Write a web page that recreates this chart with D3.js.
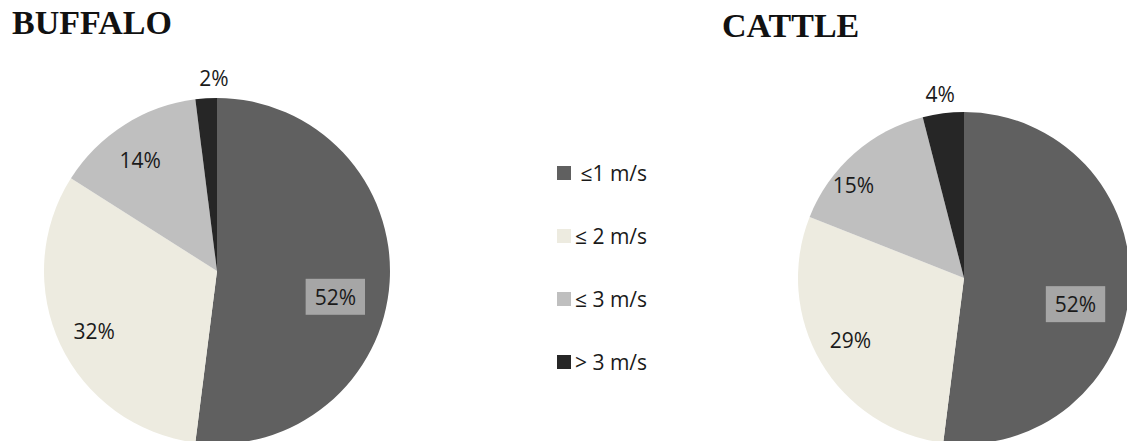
<!DOCTYPE html>
<html><head><meta charset="utf-8">
<script src="https://cdn.jsdelivr.net/npm/d3@7"></script>
<style>html,body{margin:0;padding:0;background:#fff;}svg{display:block;}</style>
</head><body>
<svg id="chart" width="1127" height="441"></svg>
<script>
// ---- data ----
const categories = ["\u00a0\u22641 m/s", "\u2264 2 m/s", "\u2264 3 m/s", "> 3 m/s"];
const buffaloValues = [52, 32, 14, 2];
const cattleValues = [52, 29, 15, 4];
const chartTitles = ["BUFFALO", "CATTLE"];

// ---- styles / layout ----
const colors = ["#606060", "#EDEBE0", "#BFBFBF", "#262626"];
const font = "'Open Sans', 'Liberation Sans', sans-serif";
const pies = [
  {values: buffaloValues, title: chartTitles[0], cx: 217, cy: 271, r: 173, tx: 12, ty: 34,
   place: [{k: 0.70, da: 8.7}, {k: 0.79, da: -0.7}, {k: 0.78, da: -2.3}, {k: 1.113, da: 2.7}]},
  {values: cattleValues, title: chartTitles[1], cx: 964, cy: 278, r: 166, tx: 722, ty: 37,
   place: [{k: 0.69, da: 9.6}, {k: 0.78, da: 2}, {k: 0.87, da: -8.6}, {k: 1.12, da: -0.2}]}
];

const svg = d3.select("#chart");
const pie = d3.pie().sort(null).value(d => d);

pies.forEach(p => {
  const g = svg.append("g").attr("transform", `translate(${p.cx},${p.cy})`);
  const arc = d3.arc().innerRadius(0).outerRadius(p.r);
  const arcs = pie(p.values);
  g.selectAll("path.slice").data(arcs).enter().append("path")
    .attr("class", "slice")
    .attr("d", arc)
    .attr("fill", (d, i) => colors[i]);

  arcs.forEach((d, i) => {
    const mid = (d.startAngle + d.endAngle) / 2 + p.place[i].da * Math.PI / 180;
    const rr = p.r * p.place[i].k;
    const x = rr * Math.sin(mid), y = -rr * Math.cos(mid);
    const lg = g.append("g");
    const t = lg.append("text")
      .attr("x", x).attr("y", y)
      .attr("text-anchor", "middle")
      .attr("dominant-baseline", "central")
      .attr("font-family", font)
      .attr("font-size", 21)
      .attr("fill", "#1a1a1a")
      .text(d.data + "%");
    if (i === 0) {
      const bb = t.node().getBBox();
      lg.insert("rect", "text")
        .attr("x", bb.x - 9).attr("y", bb.y - 4)
        .attr("width", bb.width + 18).attr("height", bb.height + 8)
        .attr("fill", "#A6A6A6");
    }
  });

  svg.append("text")
    .attr("x", p.tx).attr("y", p.ty)
    .attr("font-family", "'Liberation Serif', 'Times New Roman', serif")
    .attr("font-weight", "bold")
    .attr("font-size", 34)
    .attr("fill", "#111")
    .text(p.title);
});

// ---- legend ----
const legendY = d3.scalePoint().domain(categories).range([173, 362]);
const lg = svg.append("g");
categories.forEach((c, i) => {
  const y = legendY(c);
  lg.append("rect").attr("x", 557).attr("y", y - 7).attr("width", 14).attr("height", 14)
    .attr("fill", colors[i]);
  lg.append("text").attr("x", 575).attr("y", y)
    .attr("dominant-baseline", "central")
    .attr("font-family", font).attr("font-size", 21)
    .attr("fill", "#1a1a1a")
    .style("white-space", "pre")
    .text(c);
});
</script>
</body></html>
